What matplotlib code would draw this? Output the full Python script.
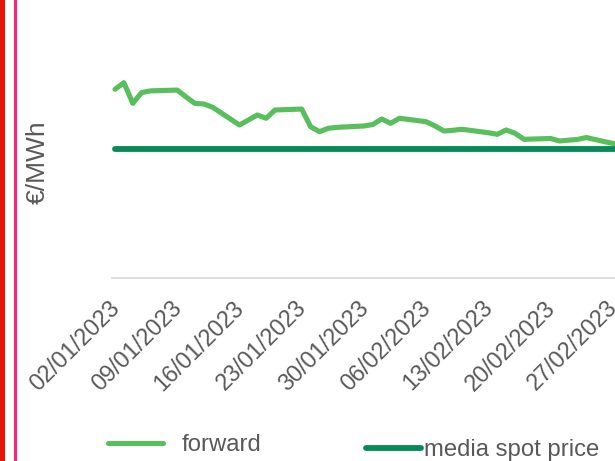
import matplotlib
matplotlib.use("Agg")
import matplotlib.pyplot as plt
from matplotlib.patches import Rectangle
from matplotlib.transforms import ScaledTranslation
import pandas as pd

# ---- data ----
dates = pd.bdate_range("2023-01-02", "2023-02-28")
forward = [235.0, 243.2, 217.5, 231.0, 233.0,
           234.0, 225.4, 217.3, 216.7, 212.5,
           190.5, 196.7, 203.0, 198.9, 209.2,
           210.4, 188.4, 182.2, 186.4, 187.6,
           189.3, 191.1,
           198.0, 192.6, 198.9,
           194.6, 189.3, 183.0, 183.9, 185.2,
           180.9, 178.9, 184.3, 180.2, 172.7,
           173.7, 170.6, 171.6, 172.5, 174.9,
           167.5, 165.6]
spot_avg = 160.0
spot = [spot_avg] * len(dates)
tick_labels = ["02/01/2023", "09/01/2023", "16/01/2023", "23/01/2023", "30/01/2023",
               "06/02/2023", "13/02/2023", "20/02/2023", "27/02/2023"]
series_names = ["forward", "media spot price"]
y_label = "€/MWh"

# ---- style ----
W, H = 615, 461
DPI = 100
FONT = "Liberation Sans"
TXT = "#595959"
C_FWD = "#58BF5C"
C_SPOT = "#078A58"

plt.rcParams["font.family"] = [FONT, "DejaVu Sans"]

fig = plt.figure(figsize=(W / DPI, H / DPI), dpi=DPI)

# axes geometry in pixels
px_day = 8.89
x0_px = 115.0
left_px = 112.0
right_px = x0_px + 57.5 * px_day
bottom_px = 278.0
ymax = 300.0
px_unit = 128.5 / spot_avg
top_px = bottom_px - ymax * px_unit

ax = fig.add_axes([left_px / W, 1 - bottom_px / H,
                   (right_px - left_px) / W, (bottom_px - top_px) / H])

start = dates[0]
xl = start - pd.Timedelta(days=(x0_px - left_px) / px_day)
xr = start + pd.Timedelta(days=57.5)
ax.set_xlim(xl, xr)
ax.set_ylim(0, ymax)

ax.plot(dates, forward, color=C_FWD, lw=3.7, solid_capstyle="round",
        solid_joinstyle="round", label=series_names[0], zorder=3)
ax.plot(dates, spot, color=C_SPOT, lw=4.2, solid_capstyle="round",
        label=series_names[1], zorder=4)

for s in ["top", "right", "left"]:
    ax.spines[s].set_visible(False)
ax.spines["bottom"].set_color("#D9D9D9")
ax.spines["bottom"].set_linewidth(1.2)
ax.set_yticks([])

tick_dates = pd.date_range("2023-01-02", periods=len(tick_labels), freq="7D")
ax.set_xticks(tick_dates)
ax.set_xticklabels(tick_labels)
ax.tick_params(axis="x", length=0, pad=19, labelsize=16.8, labelcolor=TXT)
off = ScaledTranslation(1 / DPI, 0, fig.dpi_scale_trans)
for lab in ax.get_xticklabels():
    lab.set_rotation(45)
    lab.set_ha("right")
    lab.set_va("center")
    lab.set_rotation_mode("anchor")
    lab.set_fontfamily([FONT, "DejaVu Sans"])
    lab.set_transform(lab.get_transform() + off)

fig.text(38 / W, 1 - 162 / H, y_label, rotation=90, ha="center", va="center",
         fontsize=19, color=TXT)

# legends
h1, h2 = ax.get_lines()
fs = 17.2
leg1 = fig.legend([h1], [series_names[0]], loc="center left",
                  bbox_to_anchor=(108 / W, 1 - 445 / H), frameon=False,
                  fontsize=fs, handlelength=2.3, handletextpad=0.8,
                  borderpad=0, borderaxespad=0, labelcolor=TXT)
leg2 = fig.legend([h2], [series_names[1]], loc="center left",
                  bbox_to_anchor=(366 / W, 1 - 450 / H), frameon=False,
                  fontsize=fs, handlelength=2.3, handletextpad=0.12,
                  borderpad=0, borderaxespad=0, labelcolor=TXT)

# decorative vertical border lines at left
fig.add_artist(Rectangle((0, 0), 4.5 / W, 1, transform=fig.transFigure,
                         color="#E4160C", lw=0))
fig.add_artist(Rectangle((14.3 / W, 0), 2.3 / W, 1, transform=fig.transFigure,
                         color="#FF2277", lw=0))

fig.savefig("out.png", dpi=DPI)
